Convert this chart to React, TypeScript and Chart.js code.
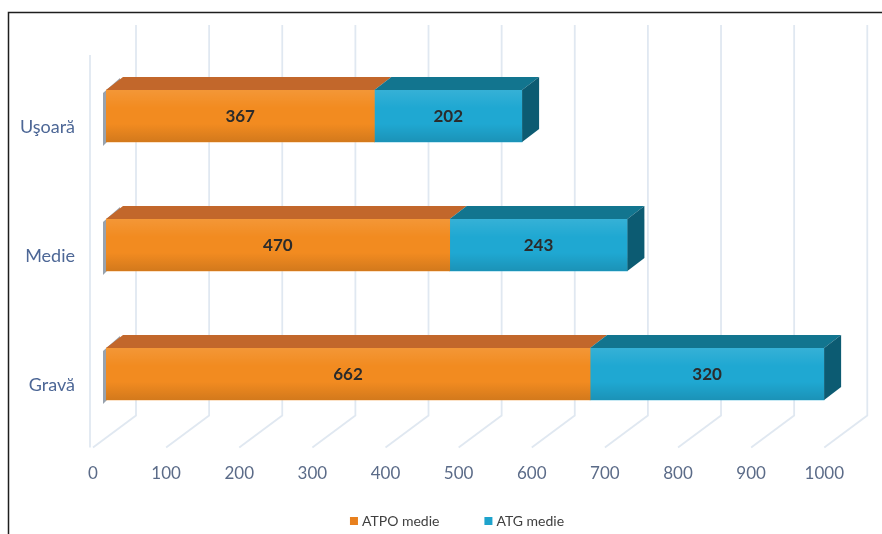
import React, { useEffect, useRef } from "react";
import { Chart, registerables } from "chart.js";

Chart.register(...registerables);

const categories = ["Uşoară", "Medie", "Gravă"];
const atpoValues = [367, 470, 662];
const atgValues = [202, 243, 320];
const seriesNames = ["ATPO medie", "ATG medie"];
const xTicks = [0, 100, 200, 300, 400, 500, 600, 700, 800, 900, 1000];

const FONT = "Lato, 'Open Sans', sans-serif";
const DX = 17; // bar depth x
const DY = 13; // bar depth y
const WX = 43; // wall depth x
const WY = 32; // wall depth y
const LABEL_SHIFT = -13;

const frontColors = ["#f28b20", "#1fa8d2"];
const topColors = ["#c2672b", "#12758f"];
const sideColor = "#0c5b72";
const legendColors = ["#e8801e", "#1ea3cc"];

const threeD = {
  id: "threeD",
  beforeDraw(chart: any) {
    const ctx = chart.ctx;
    const xs = chart.scales.x;
    const area = chart.chartArea;
    ctx.save();
    ctx.fillStyle = "#ffffff";
    ctx.fillRect(0, 0, chart.width, chart.height);
    // frame
    ctx.strokeStyle = "#1e1e1e";
    ctx.lineWidth = 1.5;
    ctx.beginPath();
    ctx.moveTo(8.5, chart.height);
    ctx.lineTo(8.5, 12.5);
    ctx.lineTo(chart.width, 12.5);
    ctx.stroke();
    // walls grid
    const floorY = area.bottom + 9;
    const backBottom = floorY - WY;
    const topY = 25;
    ctx.strokeStyle = "#e0e8f1";
    ctx.lineWidth = 1.8;
    xTicks.forEach((v) => {
      const xf = xs.getPixelForValue(v) + LABEL_SHIFT;
      ctx.beginPath();
      ctx.moveTo(xf + WX, topY);
      ctx.lineTo(xf + WX, backBottom);
      ctx.lineTo(xf, floorY);
      ctx.stroke();
    });
    const x0 = xs.getPixelForValue(0) + LABEL_SHIFT - 3;
    ctx.beginPath();
    ctx.moveTo(x0, 55);
    ctx.lineTo(x0, floorY);
    ctx.stroke();
    ctx.restore();
  },
  beforeDatasetsDraw(chart: any) {
    const ctx = chart.ctx;
    const meta = chart.getDatasetMeta(0);
    ctx.save();
    meta.data.forEach((el: any) => {
      const { y, base, height } = el.getProps(["x", "y", "base", "height"], true);
      const top = y - height / 2;
      const bottom = y + height / 2;
      const b = base - 3;
      ctx.fillStyle = "#98a2ad";
      ctx.beginPath();
      ctx.moveTo(b, top + 3);
      ctx.lineTo(b + DX, top - DY + 1);
      ctx.lineTo(b + DX, bottom - DY);
      ctx.lineTo(b, bottom + 4);
      ctx.closePath();
      ctx.fill();
    });
    ctx.restore();
  },
  afterDatasetsDraw(chart: any) {
    const ctx = chart.ctx;
    const n = chart.data.datasets.length;
    ctx.save();
    for (let d = 0; d < n; d++) {
      const meta = chart.getDatasetMeta(d);
      meta.data.forEach((el: any, i: number) => {
        const { x, y, base, height } = el.getProps(["x", "y", "base", "height"], true);
        const top = y - height / 2;
        const bottom = y + height / 2;
        // shading on front
        const g = ctx.createLinearGradient(0, top, 0, bottom);
        g.addColorStop(0, "rgba(255,255,255,0.10)");
        g.addColorStop(0.35, "rgba(255,255,255,0)");
        g.addColorStop(0.65, "rgba(0,0,0,0)");
        g.addColorStop(1, "rgba(0,0,0,0.13)");
        ctx.fillStyle = g;
        ctx.fillRect(base, top, x - base, height);
        // top face
        ctx.fillStyle = topColors[d];
        ctx.beginPath();
        ctx.moveTo(base, top);
        ctx.lineTo(x, top);
        ctx.lineTo(x + DX, top - DY);
        ctx.lineTo(base + DX, top - DY);
        ctx.closePath();
        ctx.fill();
        if (d === n - 1) {
          ctx.fillStyle = sideColor;
          ctx.beginPath();
          ctx.moveTo(x, top);
          ctx.lineTo(x + DX, top - DY);
          ctx.lineTo(x + DX, bottom - DY);
          ctx.lineTo(x, bottom);
          ctx.closePath();
          ctx.fill();
        }
        // value label
        const val = chart.data.datasets[d].data[i];
        ctx.fillStyle = "#2b2b2b";
        ctx.font = `bold 17px ${FONT}`;
        ctx.textAlign = "center";
        ctx.textBaseline = "middle";
        ctx.fillText(String(val), (base + x) / 2, y + 1);
      });
    }
    ctx.restore();
  },
  afterDraw(chart: any) {
    const ctx = chart.ctx;
    ctx.save();
    ctx.font = `14px ${FONT}`;
    ctx.textBaseline = "middle";
    ctx.textAlign = "left";
    const box = 8;
    const gapText = 4;
    const gapItems = 45;
    const widths = chart.data.datasets.map((ds: any) => ctx.measureText(ds.label).width);
    let total = 0;
    widths.forEach((w: number, i: number) => {
      total += box + gapText + w + (i < widths.length - 1 ? gapItems : 0);
    });
    let cx = chart.width / 2 + 16 - total / 2;
    const cy = 521;
    chart.data.datasets.forEach((ds: any, i: number) => {
      ctx.fillStyle = legendColors[i];
      ctx.fillRect(cx, cy - box / 2, box, box);
      cx += box + gapText;
      ctx.fillStyle = "#404040";
      ctx.fillText(ds.label, cx, cy);
      cx += widths[i] + gapItems;
    });
    ctx.restore();
  },
};

export default function App() {
  const ref = useRef<HTMLCanvasElement>(null);
  useEffect(() => {
    const chart = new Chart(ref.current as HTMLCanvasElement, {
      type: "bar",
      data: {
        labels: categories,
        datasets: [
          { label: seriesNames[0], data: atpoValues, backgroundColor: frontColors[0], borderWidth: 0, barThickness: 52 },
          { label: seriesNames[1], data: atgValues, backgroundColor: frontColors[1], borderWidth: 0, barThickness: 52 },
        ],
      },
      options: {
        indexAxis: "y",
        responsive: false,
        animation: false,
        layout: { padding: { left: 0, right: 42, top: 51.5, bottom: 0 } },
        plugins: { legend: { display: false }, tooltip: { enabled: false } },
        scales: {
          x: {
            stacked: true,
            min: 0,
            max: 1000,
            afterBuildTicks: (s: any) => {
              s.ticks = xTicks.map((v) => ({ value: v }));
            },
            afterFit: (s: any) => {
              s.height = 95.5;
            },
            grid: { display: false, drawTicks: false },
            border: { display: false },
            ticks: {
              padding: 25,
              labelOffset: LABEL_SHIFT,
              autoSkip: false,
              maxRotation: 0,
              color: "#5b6b88",
              font: { family: FONT, size: 17 },
              callback: (v: any) => String(v),
            },
          },
          y: {
            stacked: true,
            afterFit: (s: any) => {
              s.width = 106;
            },
            grid: { display: false, drawTicks: false },
            border: { display: false },
            ticks: {
              padding: 31,
              labelOffset: 11,
              color: "#4d6796",
              font: { family: FONT, size: 18 },
            },
          },
        },
      },
      plugins: [threeD],
    } as any);
    return () => chart.destroy();
  }, []);
  return (
    <canvas
      ref={ref}
      width={882}
      height={534}
      style={{ position: "fixed", left: 0, top: 0, width: 882, height: 534 }}
    />
  );
}
